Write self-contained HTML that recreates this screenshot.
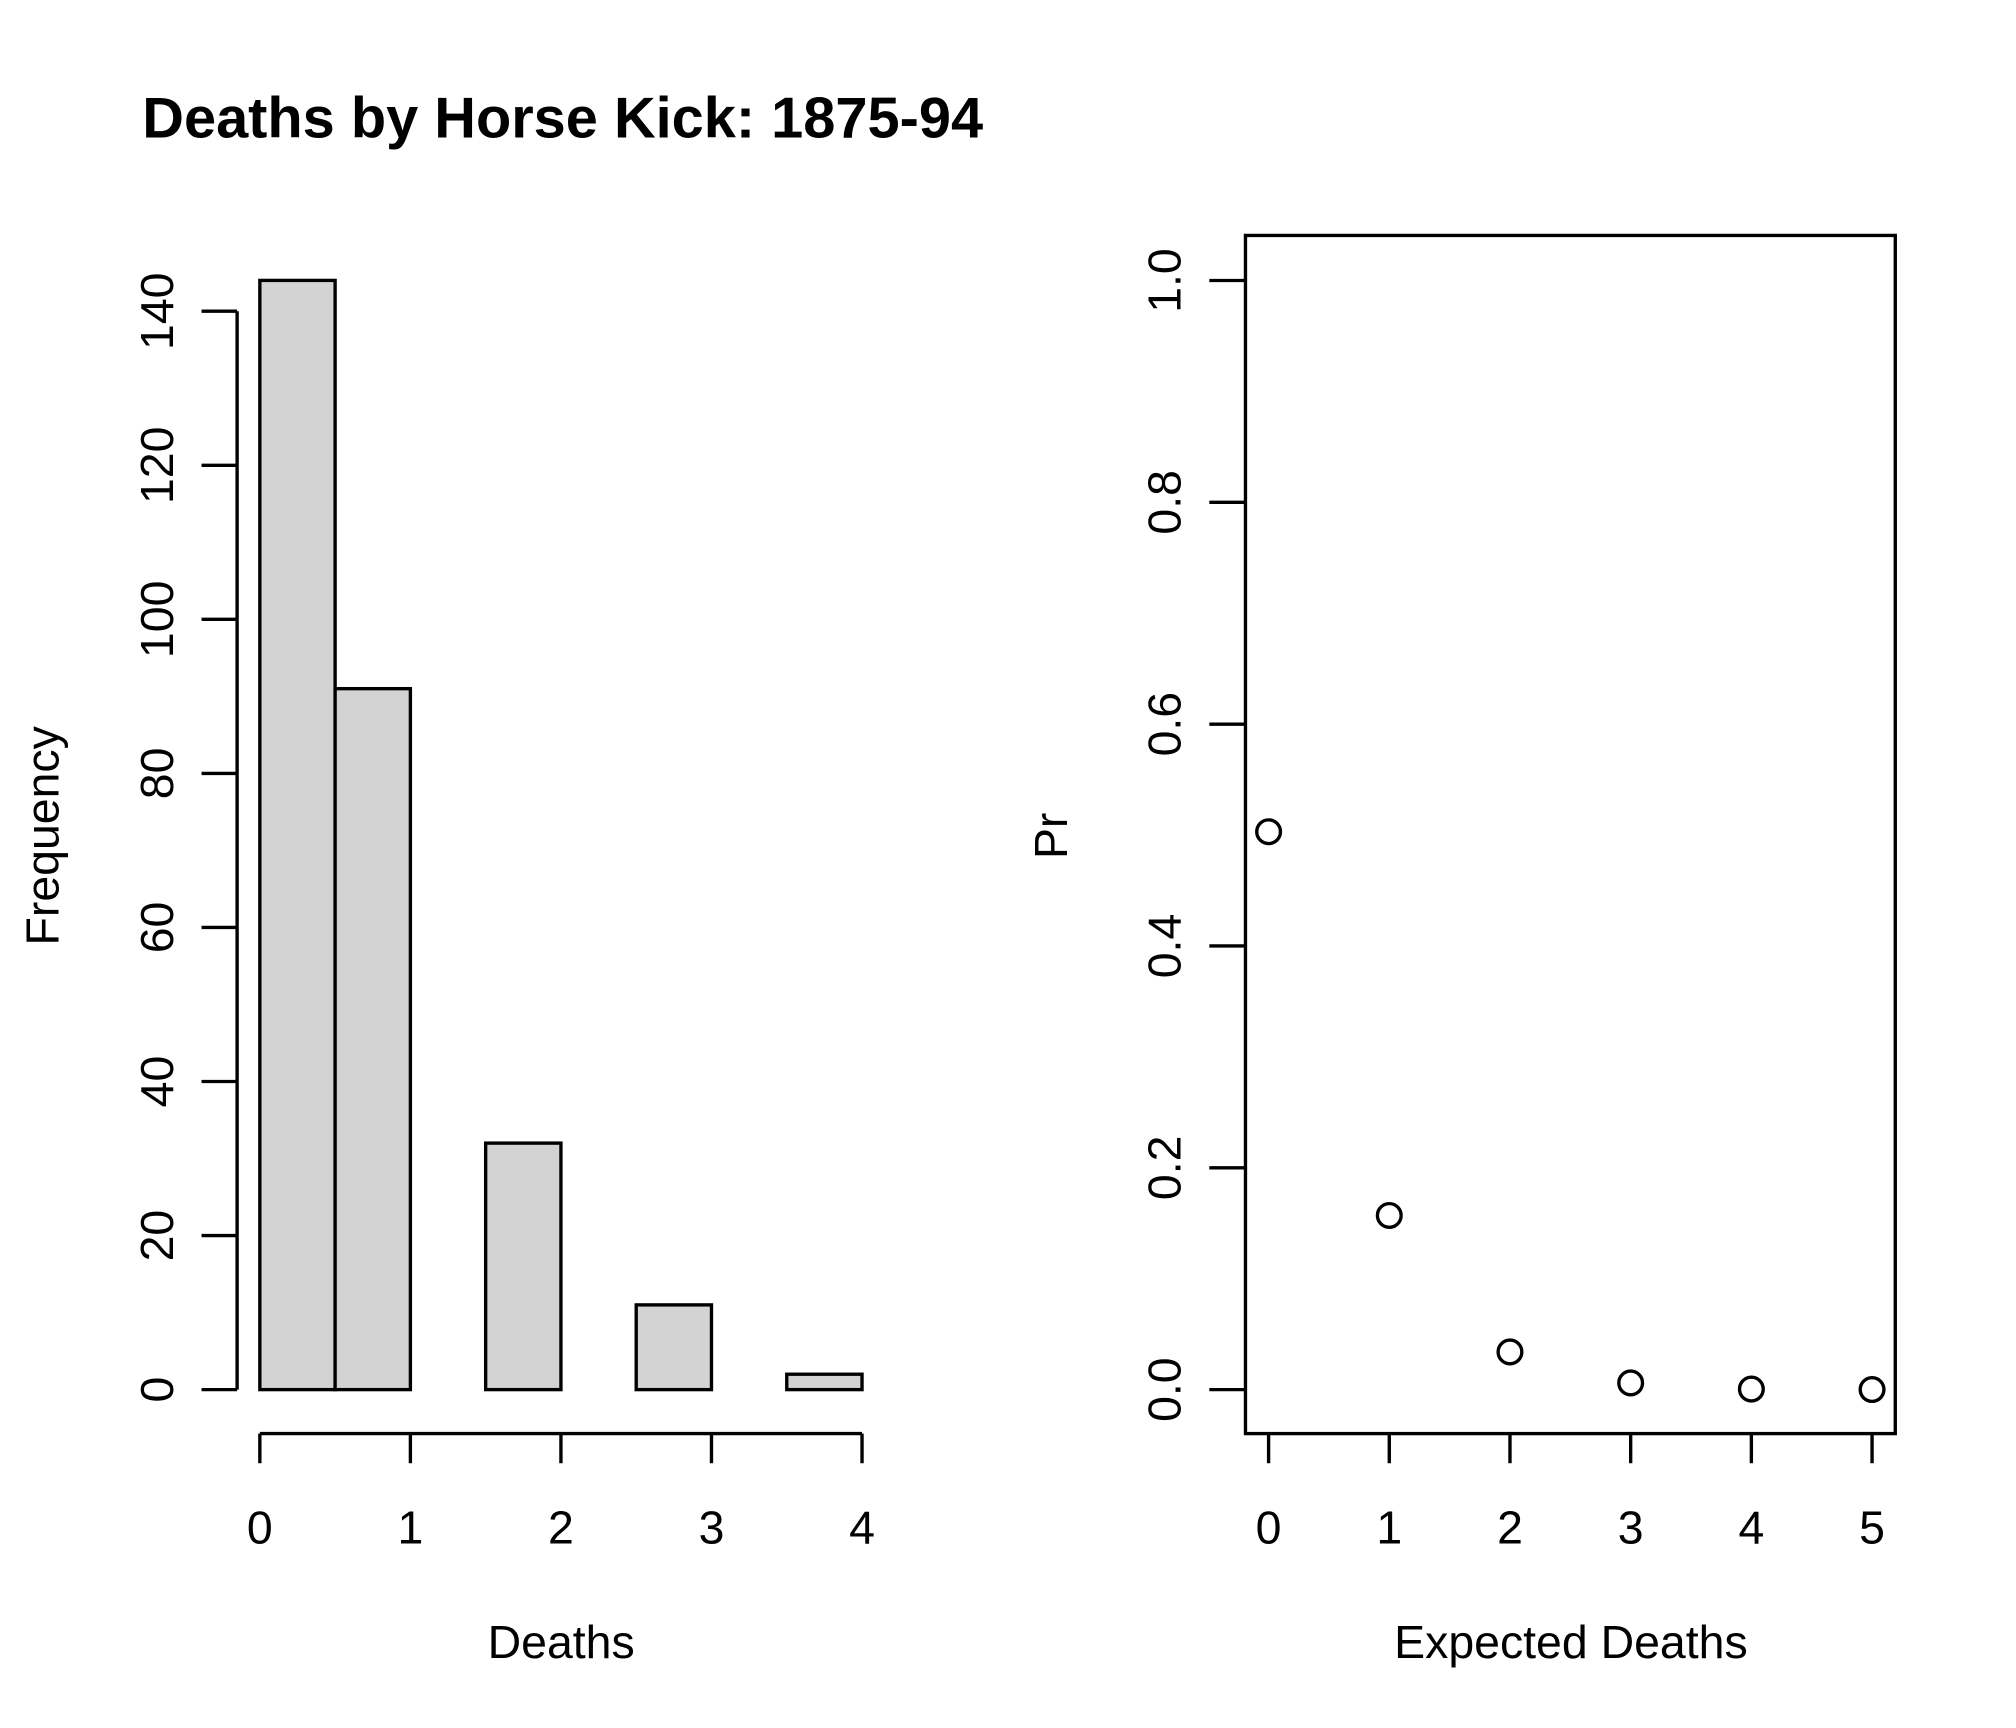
<!DOCTYPE html>
<html><head><meta charset="utf-8"><style>
html,body{margin:0;padding:0;background:#fff}
svg{display:block;font-family:"Liberation Sans",sans-serif}
</style></head><body>
<svg id="c" width="2016" height="1728" viewBox="0 0 2016 1728">
<g transform="scale(0.988)">
<text x="144" y="139" font-size="58" font-weight="bold" textLength="851" lengthAdjust="spacingAndGlyphs">Deaths by Horse Kick: 1875-94</text>
<g id="left"></g>
<g id="right"></g>
</g>
</svg>
<script>
const histBins = [0, 0.5, 1, 1.5, 2, 2.5, 3, 3.5, 4];
const histCounts = [144, 91, 0, 32, 0, 11, 0, 2];
const histYTicks = [0, 20, 40, 60, 80, 100, 120, 140];
const histXTicks = [0, 1, 2, 3, 4];
const probX = [0, 1, 2, 3, 4, 5];
const probY = [0.503, 0.157, 0.034, 0.006, 0.0005, 0.0001];
const probYTicks = ["0.0", "0.2", "0.4", "0.6", "0.8", "1.0"];
const probXTicks = [0, 1, 2, 3, 4, 5];

const NS = "http://www.w3.org/2000/svg";
function mk(parent, tag, attrs, text) {
  const e = document.createElementNS(NS, tag);
  for (const k in attrs) e.setAttribute(k, attrs[k]);
  if (text !== undefined) e.textContent = text;
  parent.appendChild(e);
  return e;
}
const LW = 3.4;
const FS = 47;
// left panel
const L = document.getElementById('left');
const hx = v => 263 + (v - 0) * (872.5 - 263) / 4;
const hy = v => 1406.5 - v * (1406.5 - 315) / 140;
for (let i = 0; i < histCounts.length; i++) {
  const x0 = hx(histBins[i]), x1 = hx(histBins[i + 1]), y = hy(histCounts[i]);
  const r = mk(L, 'rect', {x: x0, y: Math.min(y, hy(0)), width: x1 - x0, height: Math.abs(hy(0) - y), fill: '#d3d3d3', stroke: '#000', 'stroke-width': LW});
  
  
}
let a = mk(L, 'line', {x1: 240, x2: 240, y1: hy(histYTicks[0]), y2: hy(histYTicks[histYTicks.length - 1]), stroke: '#000', 'stroke-width': LW});


histYTicks.forEach(t => {
  mk(L, 'line', {x1: 204, x2: 240, y1: hy(t), y2: hy(t), stroke: '#000', 'stroke-width': LW});
  const tx = mk(L, 'text', {x: 175, y: hy(t), 'font-size': FS, 'text-anchor': 'middle', transform: `rotate(-90 175 ${hy(t)})`}, t);
  
  
});
a = mk(L, 'line', {x1: hx(histXTicks[0]), x2: hx(histXTicks[histXTicks.length - 1]), y1: 1451, y2: 1451, stroke: '#000', 'stroke-width': LW});


histXTicks.forEach(t => {
  mk(L, 'line', {x1: hx(t), x2: hx(t), y1: 1451, y2: 1481, stroke: '#000', 'stroke-width': LW});
  const tx = mk(L, 'text', {x: hx(t), y: 1562, 'font-size': FS, 'text-anchor': 'middle'}, t);
  
  
});
let t1 = mk(L, 'text', {x: 568, y: 1678, 'font-size': FS, 'text-anchor': 'middle'}, 'Deaths');


t1 = mk(L, 'text', {x: 59, y: 846, 'font-size': FS, 'text-anchor': 'middle', transform: 'rotate(-90 59 846)'}, 'Frequency');



// right panel
const R = document.getElementById('right');
const px = v => 1284 + v * (1894.8 - 1284) / 5;
const py = v => 1406.5 - v * (1406.5 - 283.9) / 1.0;
a = mk(R, 'rect', {x: 1260.6, y: 238.3, width: 1918.3 - 1260.6, height: 1451 - 238.3, fill: 'none', stroke: '#000', 'stroke-width': LW});


probYTicks.forEach(t => {
  const y = py(parseFloat(t));
  mk(R, 'line', {x1: 1224, x2: 1260.6, y1: y, y2: y, stroke: '#000', 'stroke-width': LW});
  const tx = mk(R, 'text', {x: 1195, y: y, 'font-size': FS, 'text-anchor': 'middle', transform: `rotate(-90 1195 ${y})`}, t);
  
  
});
probXTicks.forEach(t => {
  mk(R, 'line', {x1: px(t), x2: px(t), y1: 1451, y2: 1481, stroke: '#000', 'stroke-width': LW});
  const tx = mk(R, 'text', {x: px(t), y: 1562, 'font-size': FS, 'text-anchor': 'middle'}, t);
  
  
});
probX.forEach((x, i) => {
  const c = mk(R, 'circle', {cx: px(x), cy: py(probY[i]), r: 12, fill: 'none', stroke: '#000', 'stroke-width': LW});
  
  
});
t1 = mk(R, 'text', {x: 1590, y: 1678, 'font-size': FS, 'text-anchor': 'middle'}, 'Expected Deaths');


t1 = mk(R, 'text', {x: 1080, y: 846, 'font-size': FS, 'text-anchor': 'middle', transform: 'rotate(-90 1080 846)'}, 'Pr');


</script>
</body></html>
